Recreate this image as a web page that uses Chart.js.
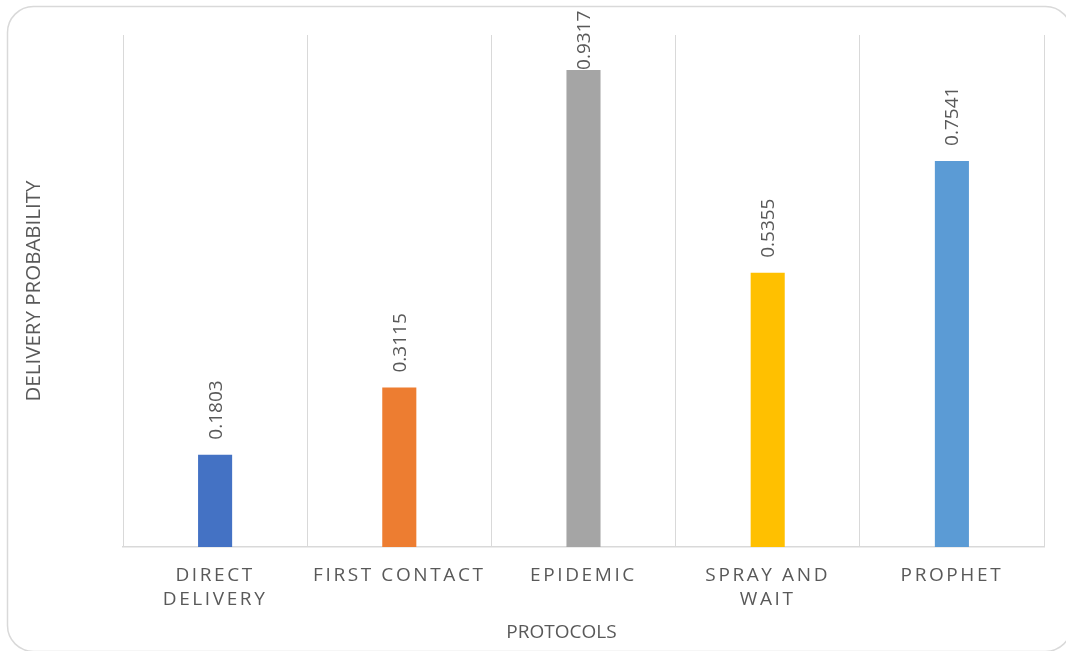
<!DOCTYPE html>
<html>
<head>
<meta charset="utf-8">
<script src="https://cdn.jsdelivr.net/npm/chart.js@4.4.0/dist/chart.umd.min.js"></script>
<style>
  html, body { margin: 0; padding: 0; background: #fff; }
  #wrap { width: 1066px; height: 651px; }
</style>
</head>
<body>
<div id="wrap"><canvas id="deliveryChart" width="1066" height="651"></canvas></div>
<script>
// data
const protocols = [['DIRECT', 'DELIVERY'], 'FIRST CONTACT', 'EPIDEMIC', ['SPRAY AND', 'WAIT'], 'PROPHET'];
const deliveryProbability = [0.1803, 0.3115, 0.9317, 0.5355, 0.7541];
const barColors = ['#4472C4', '#ED7D31', '#A5A5A5', '#FFC000', '#5B9BD5'];
const yRange = [0, 1];

const textColor = '#595959';
const lineColor = '#d9d9d9';
const fontFamily = '"Open Sans", "Liberation Sans", sans-serif';

// rounded frame around the whole chart
const framePlugin = {
    id: 'frame',
    beforeDraw(chart) {
        const ctx = chart.ctx;
        ctx.save();
        ctx.strokeStyle = lineColor;
        ctx.lineWidth = 1.5;
        ctx.beginPath();
        ctx.roundRect(7.5, 6.5, 1064, 645, 26);
        ctx.stroke();
        ctx.restore();
    },
};

// letter-spaced category labels, and the axis title sits a bit left of centre
const xAxisTweaks = {
    id: 'xAxisTweaks',
    beforeDraw(chart) {
        const xScale = chart.scales.x;
        if (xScale._patched) return;
        const drawLabels = xScale.drawLabels;
        xScale.drawLabels = function (area) {
            this.ctx.save();
            this.ctx.letterSpacing = '2.6px';
            drawLabels.call(this, area);
            this.ctx.restore();
        };
        const drawTitle = xScale.drawTitle;
        xScale.drawTitle = function () {
            this.ctx.save();
            this.ctx.translate(-22, 0);
            drawTitle.call(this);
            this.ctx.restore();
        };
        xScale._patched = true;
    },
};

// rotated value labels above each bar
const valueLabelPlugin = {
    id: 'valueLabels',
    afterDatasetsDraw(chart) {
        const ctx = chart.ctx;
        const meta = chart.getDatasetMeta(0);
        ctx.save();
        ctx.font = '19px ' + fontFamily;
        ctx.fillStyle = textColor;
        ctx.textAlign = 'left';
        ctx.textBaseline = 'middle';
        meta.data.forEach((bar, i) => {
            const text = deliveryProbability[i].toFixed(4);
            const w = ctx.measureText(text).width;
            let start = bar.y - 15;
            if (start - w < 0) start = bar.y;
            ctx.save();
            ctx.translate(bar.x + 1, start);
            ctx.rotate(-Math.PI / 2);
            ctx.fillText(text, 0, 0);
            ctx.restore();
        });
        ctx.restore();
    },
};

const ctx = document.getElementById('deliveryChart').getContext('2d');
new Chart(ctx, {
    type: 'bar',
    data: {
        labels: protocols,
        datasets: [{
            label: 'Delivery Probability',
            data: deliveryProbability,
            backgroundColor: barColors,
            categoryPercentage: 1,
            barPercentage: 0.185,
        }],
    },
    options: {
        responsive: false,
        animation: false,
        layout: {
            padding: { top: 35, right: 22, bottom: 0, left: 8 },
        },
        plugins: {
            legend: { display: false },
            tooltip: { enabled: false },
        },
        scales: {
            x: {
                grid: { color: lineColor, lineWidth: 1, drawTicks: false, offset: true },
                border: { color: lineColor, width: 1.5 },
                ticks: {
                    color: textColor,
                    font: { family: fontFamily, size: 19, lineHeight: 1.3 },
                    padding: 16,
                    maxRotation: 0,
                    autoSkip: false,
                },
                title: {
                    display: true,
                    text: 'PROTOCOLS',
                    color: textColor,
                    font: { family: fontFamily, size: 19 },
                    padding: { top: 0, bottom: 7 },
                },
                afterFit(scale) { scale.height = 104; },
            },
            y: {
                min: yRange[0],
                max: yRange[1],
                grid: { display: false },
                border: { display: false },
                ticks: { display: false },
                title: {
                    display: true,
                    text: 'DELIVERY PROBABILITY',
                    color: textColor,
                    font: { family: fontFamily, size: 20.5 },
                    padding: { top: 14, bottom: 0 },
                },
                afterFit(scale) { scale.width = 115; },
            },
        },
    },
    plugins: [framePlugin, xAxisTweaks, valueLabelPlugin],
});
</script>
</body>
</html>
